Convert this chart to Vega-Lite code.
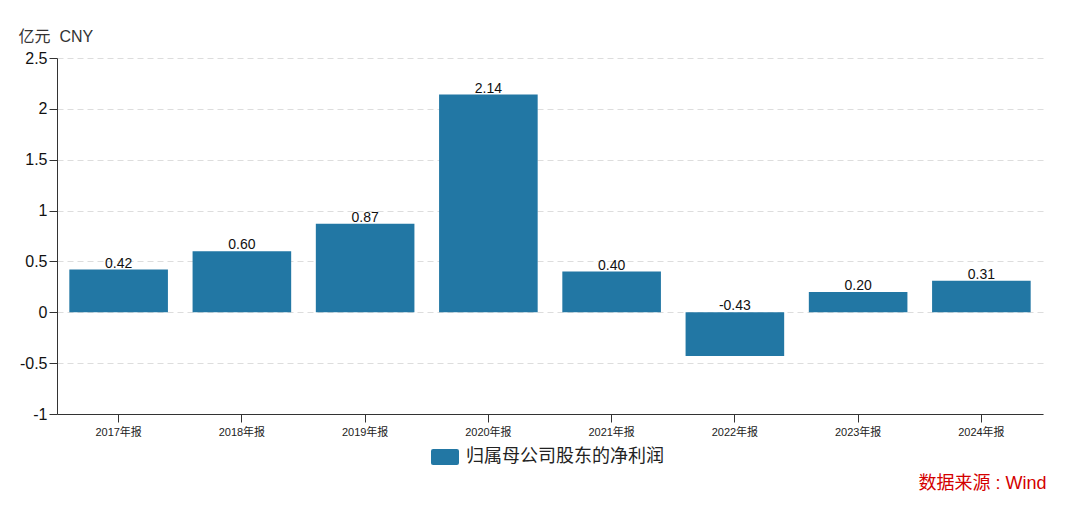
{
  "$schema": "https://vega.github.io/schema/vega-lite/v6.json",
  "width": 986,
  "height": 356,
  "autosize": {"type": "none"},
  "padding": {"left": 57, "top": 58, "right": 37, "bottom": 92},
  "background": "white",
  "config": {
    "font": "Liberation Sans, Noto Sans CJK SC",
    "view": {"stroke": null},
    "locale": {
      "number": {"decimal": ".", "thousands": ",", "grouping": [3], "currency": ["$", ""], "minus": "-"}
    }
  },
  "data": {
    "values": [
      {"period": "2017年报", "value": 0.42, "series": "归属母公司股东的净利润"},
      {"period": "2018年报", "value": 0.60, "series": "归属母公司股东的净利润"},
      {"period": "2019年报", "value": 0.87, "series": "归属母公司股东的净利润"},
      {"period": "2020年报", "value": 2.14, "series": "归属母公司股东的净利润"},
      {"period": "2021年报", "value": 0.40, "series": "归属母公司股东的净利润"},
      {"period": "2022年报", "value": -0.43, "series": "归属母公司股东的净利润"},
      {"period": "2023年报", "value": 0.20, "series": "归属母公司股东的净利润"},
      {"period": "2024年报", "value": 0.31, "series": "归属母公司股东的净利润"}
    ]
  },
  "encoding": {
    "x": {
      "field": "period",
      "type": "nominal",
      "sort": null,
      "scale": {"paddingInner": 0.2, "paddingOuter": 0.1},
      "axis": {
        "labelAngle": 0,
        "labelFontSize": 11,
        "labelColor": "#222",
        "labelPadding": 4,
        "tickSize": 8,
        "tickColor": "#333",
        "domainColor": "#333",
        "grid": false,
        "title": "数据来源 : Wind",
        "titleColor": "#d40000",
        "titleFontSize": 18,
        "titleFontWeight": "normal",
        "titleAnchor": "end",
        "titleAlign": "right",
        "titleBaseline": "alphabetic",
        "titleX": 989,
        "titleY": 74
      }
    }
  },
  "layer": [
    {
      "mark": {"type": "bar"},
      "encoding": {
        "y": {
          "field": "value",
          "type": "quantitative",
          "scale": {"domain": [-1, 2.5], "nice": false, "zero": false},
          "axis": {
            "values": [-1, -0.5, 0, 0.5, 1, 1.5, 2, 2.5],
            "format": "~g",
            "labelFontSize": 16,
            "labelColor": "#111",
            "labelPadding": 2,
            "tickSize": 8,
            "tickColor": "#333",
            "domainColor": "#333",
            "grid": true,
            "gridColor": "#dddddd",
            "gridDash": [6, 4],
            "title": "亿元 \u00a0CNY",
            "titleAngle": 0,
            "titleFontSize": 16,
            "titleFontWeight": "normal",
            "titleColor": "#333",
            "titleAlign": "left",
            "titleBaseline": "alphabetic",
            "titleX": -39,
            "titleY": -17
          }
        },
        "color": {
          "field": "series",
          "type": "nominal",
          "scale": {"range": ["#2277a4"]},
          "legend": {
            "orient": "none",
            "legendX": 374,
            "legendY": 385,
            "title": null,
            "labelFontSize": 18,
            "labelColor": "#222",
            "labelLimit": 400,
            "symbolType": "M-0.85,-0.57 L0.85,-0.57 Q1,-0.57 1,-0.42 L1,0.42 Q1,0.57 0.85,0.57 L-0.85,0.57 Q-1,0.57 -1,0.42 L-1,-0.42 Q-1,-0.57 -0.85,-0.57 Z",
            "symbolSize": 784,
            "symbolStrokeWidth": 0,
            "symbolOpacity": 1,
            "labelOffset": 7
          }
        }
      }
    },
    {
      "transform": [{"filter": "datum.value >= 0"}],
      "mark": {"type": "text", "baseline": "alphabetic", "dy": -2, "fontSize": 14, "color": "#111"},
      "encoding": {
        "y": {"field": "value", "type": "quantitative"},
        "text": {"field": "value", "type": "quantitative", "format": ".2f"}
      }
    },
    {
      "transform": [{"filter": "datum.value < 0"}],
      "mark": {"type": "text", "baseline": "alphabetic", "dy": -2, "fontSize": 14, "color": "#111"},
      "encoding": {
        "y": {"datum": 0, "type": "quantitative"},
        "text": {"field": "value", "type": "quantitative", "format": ".2f"}
      }
    }
  ]
}
